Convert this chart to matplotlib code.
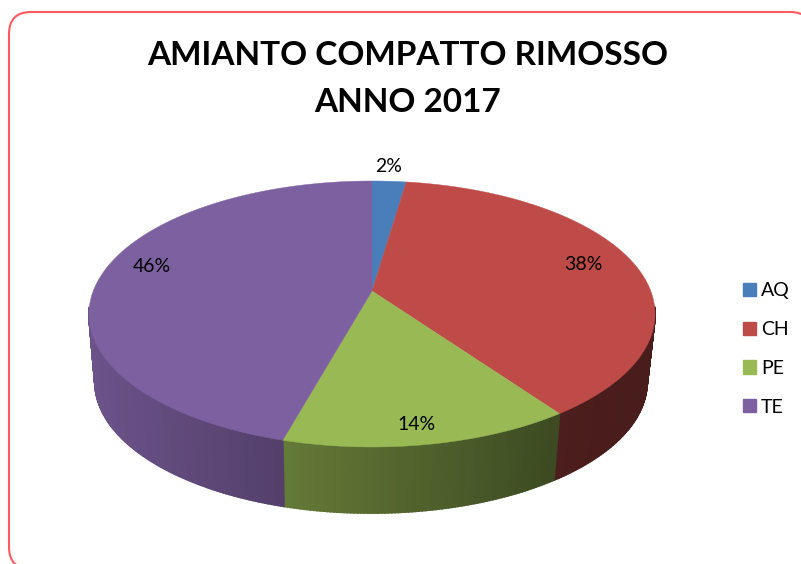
import numpy as np
import matplotlib
matplotlib.use("Agg")
import matplotlib.pyplot as plt
from matplotlib.patches import FancyBboxPatch, Patch

plt.rcParams['font.family'] = ['Lato', 'DejaVu Sans']

title = "AMIANTO COMPATTO RIMOSSO\nANNO 2017"
categories = ["AQ", "CH", "PE", "TE"]
values = [2.3, 37.9, 14.1, 45.7]
colors = ["#4A7EBB", "#BE4B48", "#98B954", "#7D60A0"]
label_pos = [(389, 166), (583, 265), (417, 425), (152, 267)]

# pie geometry in pixels
cx = 372
cy = 314
rx = 283
ry = 133
k = 23 / 133  # how far the centre sits off the ellipse middle
depth = 68


# Unit disc to screen, angle t clockwise from the top, rim only when r = 1
def project(t, r=1.0):
    u = r * np.sin(t)
    v = r * np.cos(t)
    w = 1 + k * v
    x = rx * np.sqrt(1 - k**2) * u / w
    y = (ry * v + 23) / w
    return x, y


def top_point(t, r=1.0):
    x, y = project(t, r)
    return cx + x, cy - y


def bottom_point(t):
    x, y = project(t)
    return cx - 1 + x * 277 / 284, cy + depth - y * 131 / 133


# Sides get darker from left to right
def shade(x):
    return np.interp(x, [90, 285, 558, 650], [0.86, 0.66, 0.40, 0.38])


fig = plt.figure(figsize=(8.01, 5.64), dpi=100)
ax = fig.add_axes([0, 0, 1, 1])
ax.set_xlim(0, 801)
ax.set_ylim(564, 0)
ax.axis("off")

ax.add_patch(FancyBboxPatch((9, 12), 803, 557, boxstyle="round,pad=0,rounding_size=22",
                            fc="white", ec="#FF5A5F", lw=1.5))

edges = np.concatenate(([0], np.cumsum(values))) / sum(values) * 2 * np.pi

# side walls first, the back part is hidden anyway
for i in range(len(values)):
    base = np.array(matplotlib.colors.to_rgb(colors[i]))
    ts = np.linspace(edges[i], edges[i + 1], int(values[i] * 6) + 2)
    for a, b in zip(ts[:-1], ts[1:]):
        if np.cos((a + b) / 2) > -0.12:
            continue
        xa, ya = top_point(a)
        xb, yb = top_point(b)
        xc, yc = bottom_point(b)
        xd, yd = bottom_point(a)
        c = base * shade((xa + xb) / 2)
        ax.fill([xa, xb, xc, xd], [ya, yb, yc, yd], color=c, lw=1.3)

# top faces
for i in range(len(values)):
    ts = np.linspace(edges[i], edges[i + 1], 200)
    xs, ys = top_point(ts)
    x0, y0 = top_point(0.0, 0.0)
    ax.fill(np.r_[x0, xs], np.r_[y0, ys], color=colors[i], lw=0.3)

for i in range(len(values)):
    ax.text(label_pos[i][0], label_pos[i][1], f"{values[i]:.0f}%", ha="center", va="center",
            fontsize=14, color="black")

ax.text(408, 79, title, ha="center", va="center", fontsize=24, fontweight="bold",
        color="black", linespacing=1.72)

handles = [Patch(color=c) for c in colors]
ax.legend(handles, categories, loc="center left", bbox_to_anchor=(743, 349),
          bbox_transform=ax.transData, frameon=False, fontsize=14,
          handlelength=0.67, handleheight=0.67, handletextpad=0.25,
          labelspacing=1.12, borderpad=0, borderaxespad=0)

fig.savefig("out.png", dpi=100)
